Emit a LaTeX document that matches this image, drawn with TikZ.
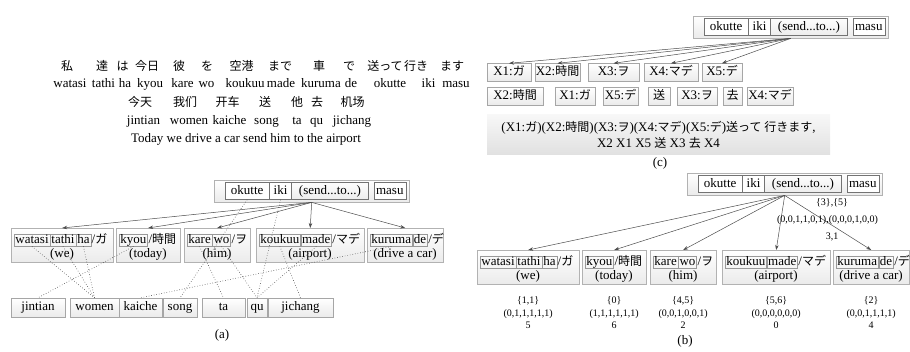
\documentclass[tikz,border=0pt]{standalone}
\usepackage{fontspec}
\setmainfont{Liberation Serif}
\newfontfamily\jpfont{Noto Sans CJK JP}
\newfontfamily\zhfont{Noto Sans CJK SC}
\usetikzlibrary{positioning,arrows.meta}
\newcommand\ja[1]{{\jpfont\fontsize{12}{14}\selectfont #1}}
\newcommand\zhc[1]{{\zhfont\fontsize{12}{14}\selectfont #1}}
\newcommand\txt{\fontsize{13}{16}\selectfont}
\newcommand\sml{\fontsize{10}{12.5}\selectfont}

\begin{document}
\begin{tikzpicture}[x=1pt,y=-1pt,
  lbl/.style={inner sep=0.5pt,font=\txt},
  outbox/.style={draw=black!30,top color=white,bottom color=black!8,inner sep=0pt,anchor=north west},
  tbox/.style={draw=black!55,fill=white,font=\txt,minimum height=17pt,inner sep=0pt,text height=9.5pt,text depth=2.5pt},
  cbox/.style={draw=black!30,top color=white,bottom color=black!8,inner sep=0pt,anchor=north west,minimum height=34pt},
  wbox/.style={draw=black!40,font=\txt,inner xsep=1.2pt,inner ysep=0.5pt,text height=9pt,text depth=2.5pt},
  qbox/.style={draw=black!35,top color=white,bottom color=black!8,font=\txt,inner sep=0pt,minimum height=19pt,text height=9pt,text depth=2.5pt},
  xbox/.style={draw=black!35,top color=white,bottom color=black!8,font=\txt,inner sep=0pt,minimum height=18pt,text height=9.5pt,text depth=2.5pt},
  shadebox/.style={top color=black!3,bottom color=black!12,font=\txt,inner sep=0pt,align=center},
  arr/.style={draw=black!70,line width=0.5pt,-{Stealth[length=5pt,width=3.5pt]}},
  dots/.style={draw=black!70,line width=0.6pt,dotted},
  small/.style={font=\sml,align=center,inner sep=1pt}]
 \useasboundingbox (0,0) rectangle (910,352);

 \foreach \n/\x/\xj/\jw/\ro in {1/70/67/私/watasi, 2/103.5/102/達/tathi, 3/125/122.5/は/ha, 4/150/147/今日/kyou, 5/182.5/179/彼/kare, 6/206.5/207/を/wo, 7/245/241.5/空港/koukuu, 8/281/280/まで/made, 9/321/319/車/kuruma, 10/351/349/で/de, 11/390/385/送って/okutte, 12/428.5/416/行き/iki, 13/456/452/ます/masu}{
  \node[lbl,anchor=base] (jp\n) at (\xj,70.5) {\ja{\jw}};
  \node[lbl,anchor=base] (ro\n) at (\x,87.5) {\ro};
 }
 \foreach \n/\x/\xz/\zw/\py in {1/143.5/140/今天/jintian, 2/189/185/我们/women, 3/229.5/227.5/开车/kaiche, 4/266.5/265/送/song, 5/297/297/他/ta, 6/316.5/317/去/qu, 7/352/352.5/机场/jichang}{
  \node[lbl,anchor=base] (zh\n) at (\xz,106.5) {\zhc{\zw}};
  \node[lbl,anchor=base] (py\n) at (\x,124.5) {\py};
 }
 \node[lbl,anchor=base] (en) at (246,142.5) {Today we drive a car send him to the airport};

 \foreach \p/\x/\y in {a/214/180, c/693/16, b/687/173}{
  \begin{scope}[shift={(\x,\y)},name prefix=\p-]
   \node[outbox,minimum width=195pt,minimum height=22pt] (top) at (0,0) {};
   \node[tbox,anchor=west,minimum width=44pt] (ok) at (11,11) {okutte};
   \node[tbox,anchor=west,minimum width=22pt] (iki) at (ok.east) {iki};
   \node[tbox,draw=none,fill=none,anchor=west,minimum width=76pt] (snd) at (iki.east) {(send...to...)};
   \draw[black!55] (ok.north west) rectangle (snd.south east);
   \node[tbox,anchor=east,minimum width=32pt] (masu) at (192,11) {masu};
  \end{scope}
 }

 \foreach \p/\x/\y in {a/11/228, b/477/250}{
  \begin{scope}[shift={(\x,\y)},name prefix=\p-]
   \node[cbox,minimum width=102pt] (c1) at (0,0) {};
   \node[cbox,minimum width=64pt] (c2) at (105,0) {};
   \node[cbox,minimum width=66pt] (c3) at (173,0) {};
   \node[cbox,minimum width=108pt] (c4) at (245,0) {};
   \node[cbox,minimum width=76pt] (c5) at (356,0) {};
   \node[wbox,anchor=west] (wat) at (3,12) {watasi};
   \node[wbox,anchor=west] (tat) at (wat.east) {tathi};
   \node[wbox,anchor=west] (ha) at (tat.east) {ha};
   \node[lbl,anchor=base west] (ga) at (ha.base east) {/\ja{ガ}};
   \node[wbox,anchor=west] (kyo) at (108,12) {kyou};
   \node[lbl,anchor=base west] (jikan) at (kyo.base east) {/\ja{時間}};
   \node[wbox,anchor=west] (kar) at (176,12) {kare};
   \node[wbox,anchor=west] (wo) at (kar.east) {wo};
   \node[lbl,anchor=base west] (wo2) at (wo.base east) {/\ja{ヲ}};
   \node[wbox,anchor=west] (kou) at (248,12) {koukuu};
   \node[wbox,anchor=west] (mad) at (kou.east) {made};
   \node[lbl,anchor=base west] (mad2) at (mad.base east) {/\ja{マデ}};
   \node[wbox,anchor=west] (kur) at (359,12) {kuruma};
   \node[wbox,anchor=west] (de) at (kur.east) {de};
   \node[lbl,anchor=base west] (de2) at (de.base east) {/\ja{デ}};
   \node[lbl,anchor=base] (we) at (51,29.5) {(we)};
   \node[lbl,anchor=base] (today) at (137,29.5) {(today)};
   \node[lbl,anchor=base] (him) at (206,29.5) {(him)};
   \node[lbl,anchor=base] (airport) at (299,29.5) {(airport)};
   \node[lbl,anchor=base] (car) at (394,29.5) {(drive a car)};
  \end{scope}
 }
 \foreach \p in {a,b}{
  \foreach \m in {1,...,5}{
   \draw[arr] (\p-top.south) -- (\p-c\m.north);
  }
 }

 \foreach \n/\x/\bw in {jintian/38/54, women/94.5/49, kaiche/140.5/43, song/180/34, ta/223.5/43, qu/257/20, jichang/300.5/65}{
  \node[qbox,minimum width=\bw] (\n) at (\x,307.5) {\n};
 }
 \foreach \src/\dst in {wat/women, tat/women, ha/women, kyo/jintian, kar/ta, wo/qu, kou/jichang, mad/qu, kur/kaiche, ok/song, iki/qu}{
  \draw[dots] (a-\src.south) -- (\dst.north);
 }
 \node[lbl] (la) at (222,335) {(a)};

 \foreach \n/\x/\bw/\lab in {1/509/44/X1:\ja{ガ}, 2/557.5/45/X2:\ja{時間}, 3/613.5/51/X3:\ja{ヲ}, 4/671/54/X4:\ja{マデ}, 5/722/40/X5:\ja{デ}}{
  \node[xbox,minimum width=\bw] (x\n) at (\x,72.5) {\lab};
  \draw[arr] (c-top.south) -- (x\n.north);
 }
 \foreach \n/\x/\bw/\lab in {1/515/56/X2:\ja{時間}, 2/575/40/X1:\ja{ガ}, 3/620.5/35/X5:\ja{デ}, 4/659/22/\ja{送}, 5/697/40/X3:\ja{ヲ}, 6/732.5/19/\ja{去}, 7/770/46/X4:\ja{マデ}}{
  \node[xbox,minimum width=\bw] (y\n) at (\x,96.5) {\lab};
 }
 \node[shadebox,minimum width=343pt,minimum height=40pt] (rule) at (658.5,135) {(X1:\ja{ガ})(X2:\ja{時間})(X3:\ja{ヲ})(X4:\ja{マデ})(X5:\ja{デ})\ja{送って 行きます},\\X2 X1 X5 \ja{送} X3 \ja{去} X4};
 \node[lbl] (lc) at (660,163) {(c)};

 \node[small] (sets) at (832,203) {\{3\},\{5\}};
 \node[small] (vecs) at (827.5,220) {(0,0,1,1,0,1),(0,0,0,1,0,0)};
 \node[small] (pos) at (832,237) {3,1};
 \node[small,below=11pt of b-c1] (v1) {\{1,1\}\\(0,1,1,1,1,1)\\5};
 \node[small,below=11pt of b-c2] (v2) {\{0\}\\(1,1,1,1,1,1)\\6};
 \node[small,below=11pt of b-c3] (v3) {\{4,5\}\\(0,0,1,0,0,1)\\2};
 \node[small,below=11pt of b-c4] (v4) {\{5,6\}\\(0,0,0,0,0,0)\\0};
 \node[small,below=11pt of b-c5] (v5) {\{2\}\\(0,0,1,1,1,1)\\4};
 \node[lbl] (lb) at (685,341) {(b)};
\end{tikzpicture}
\end{document}
